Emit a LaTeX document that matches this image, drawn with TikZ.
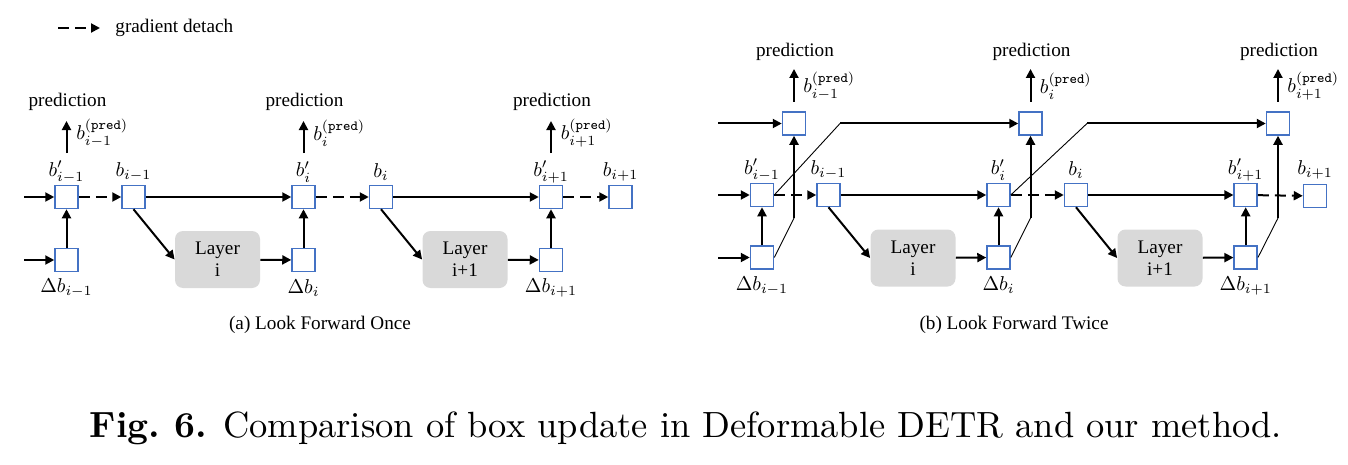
\documentclass[tikz,border=0pt]{standalone}
\usepackage{fontspec}
\usepackage{graphicx}
\usetikzlibrary{arrows.meta}
\newfontfamily\tnr{Liberation Serif}
\definecolor{boxblue}{HTML}{4472C4}
\definecolor{layergray}{HTML}{D9D9D9}
\begin{document}
\begin{tikzpicture}[x=0.5pt,y=-0.5pt,
  bx/.style={draw=boxblue,line width=0.75pt,fill=white,minimum size=11.5pt,inner sep=0pt},
  layerbox/.style={fill=layergray,rounded corners=4pt,minimum width=42.5pt,minimum height=28.5pt,
     align=center,inner sep=0pt,font=\tnr\fontsize{9.6}{10.8}\selectfont},
  txt/.style={font=\tnr\fontsize{9.6}{11}\selectfont,inner sep=0pt},
  mlab/.style={font=\fontsize{10}{12}\selectfont,inner sep=0pt},
  arr/.style={line width=1pt,-{Triangle[length=4.5pt,width=4.5pt]}},
  det/.style={arr,dash pattern=on 5.5pt off 3pt},
  thinln/.style={line width=0.45pt}]
\useasboundingbox (0,0) rectangle (1348,465);

% legend
\coordinate (lg1) at (58,28);
\coordinate (lg2) at (100,28);
\draw[det] (lg1) -- (lg2);
\node[txt,anchor=west] (lgt) at (115,28) {gradient detach};

% ================= panel (a) =================
\node[bx] (abp1) at (66.5,197) {};
\node[bx] (ad1) at (66.5,260) {};
\node[bx] (ab1) at (133.5,197) {};
\node[layerbox] (aL1) at (217.5,259.5) {Layer\\i};
\node[bx] (abp2) at (303.5,197) {};
\node[bx] (ad2) at (303.5,260) {};
\node[bx] (ab2) at (381,197) {};
\node[layerbox] (aL2) at (465,259.5) {Layer\\i+1};
\node[bx] (abp3) at (551,197) {};
\node[bx] (ad3) at (551,260) {};
\node[bx] (ab3) at (620.5,197) {};

\coordinate (ain1) at (24,197);
\coordinate (ain2) at (24,260);
\draw[arr] (ain1) -- (abp1);
\draw[arr] (ain2) -- (ad1);
\draw[arr] (ad1) -- (abp1);
\draw[det] (abp1) -- (ab1);
\draw[arr] (ab1.south) -- (aL1.west);
\draw[arr] (aL1) -- (ad2);
\draw[arr] (ad2) -- (abp2);
\draw[arr] (ab1) -- (abp2);
\draw[det] (abp2) -- (ab2);
\draw[arr] (ab2.south) -- (aL2.west);
\draw[arr] (aL2) -- (ad3);
\draw[arr] (ad3) -- (abp3);
\draw[arr] (ab2) -- (abp3);
\draw[det] (abp3) -- (ab3);

\node[mlab] (albp1) at (66.5,172) {$b'_{i-1}$};
\node[mlab] (alb1) at (133.5,172) {$b_{i-1}$};
\node[mlab] (albp2) at (303.5,172) {$b'_{i}$};
\node[mlab] (alb2) at (381,172) {$b_{i}$};
\node[mlab] (albp3) at (551,172) {$b'_{i+1}$};
\node[mlab] (alb3) at (620.5,172) {$b_{i+1}$};
\node[mlab] (ald1) at (66.5,288) {$\Delta b_{i-1}$};
\node[mlab] (ald2) at (303.5,288) {$\Delta b_{i}$};
\node[mlab] (ald3) at (551,288) {$\Delta b_{i+1}$};

\foreach \n/\x/\s in {1/66.5/{i-1},2/303.5/{i},3/551/{i+1}}{
  \coordinate (aps\n) at (\x,153);
  \coordinate (ape\n) at (\x,121);
  \draw[arr] (aps\n) -- (ape\n);
  \node[mlab,anchor=west] (apl\n) at (\x+9.5,133) {$b_{\s}^{(\mathtt{pred})}$};
  \node[txt] (apt\n) at (\x+1,102) {prediction};
}

\node[txt] (capa) at (320,325) {(a) Look Forward Once};

% ================= panel (b) =================
\node[bx] (bp1) at (794,123.5) {};
\node[bx] (bbp1) at (762,195) {};
\node[bx] (bd1) at (762,257.5) {};
\node[bx] (bb1) at (828.5,195) {};
\node[layerbox] (bL1) at (913,258) {Layer\\i};
\node[bx] (bbp2) at (998.5,195) {};
\node[bx] (bd2) at (998.5,257.5) {};
\node[bx] (bp2) at (1030.5,123.5) {};
\node[bx] (bb2) at (1076,195) {};
\node[layerbox] (bL2) at (1160,258) {Layer\\i+1};
\node[bx] (bbp3) at (1245.7,195) {};
\node[bx] (bd3) at (1245.7,257.5) {};
\node[bx] (bp3) at (1278,123.5) {};
\node[bx] (bb3) at (1315,196) {};

\coordinate (bin0) at (718,123.5);
\coordinate (bin1) at (718,195);
\coordinate (bin2) at (718,257.5);
\draw[arr] (bin0) -- (bp1);
\draw[arr] (bin1) -- (bbp1);
\draw[arr] (bin2) -- (bd1);
\draw[arr] (bd1) -- (bbp1);
\draw[det] (bbp1) -- (bb1);
\draw[arr] (bb1.south) -- (bL1.west);
\draw[arr] (bL1) -- (bd2);
\draw[arr] (bd2) -- (bbp2);
\draw[arr] (bb1) -- (bbp2);
\draw[det] (bbp2) -- (bb2);
\draw[arr] (bb2.south) -- (bL2.west);
\draw[arr] (bL2) -- (bd3);
\draw[arr] (bd3) -- (bbp3);
\draw[arr] (bb2) -- (bbp3);
\draw[det] (bbp3) -- (bb3);

% look-forward-twice connectors
\coordinate (bk1) at (840,123.5);
\coordinate (bk2) at (1087,123.5);
\coordinate (bv1) at (794,218);
\coordinate (bv2) at (1030.5,218);
\coordinate (bv3) at (1278,218);
\draw[thinln] (bbp1.east) -- (bk1);
\draw[arr] (bk1) -- (bp2);
\draw[thinln] (bbp2.east) -- (bk2);
\draw[arr] (bk2) -- (bp3);
\draw[thinln] (bd1.east) -- (bv1);
\draw[arr] (bv1) -- (bp1);
\draw[thinln] (bd2.east) -- (bv2);
\draw[arr] (bv2) -- (bp2);
\draw[thinln] (bd3.east) -- (bv3);
\draw[arr] (bv3) -- (bp3);

\node[mlab] (blbp1) at (762,170) {$b'_{i-1}$};
\node[mlab] (blb1) at (828.5,170) {$b_{i-1}$};
\node[mlab] (blbp2) at (998.5,170) {$b'_{i}$};
\node[mlab] (blb2) at (1076,170) {$b_{i}$};
\node[mlab] (blbp3) at (1245.7,170) {$b'_{i+1}$};
\node[mlab] (blb3) at (1315,170) {$b_{i+1}$};
\node[mlab] (bld1) at (762,285.5) {$\Delta b_{i-1}$};
\node[mlab] (bld2) at (998.5,285.5) {$\Delta b_{i}$};
\node[mlab] (bld3) at (1245.7,285.5) {$\Delta b_{i+1}$};

\foreach \n/\x/\s in {1/794/{i-1},2/1030.5/{i},3/1278/{i+1}}{
  \coordinate (bps\n) at (\x,102);
  \coordinate (bpe\n) at (\x,69);
  \draw[arr] (bps\n) -- (bpe\n);
  \node[mlab,anchor=west] (bpl\n) at (\x+9,86) {$b_{\s}^{(\mathtt{pred})}$};
  \node[txt] (bpt\n) at (\x+1,52) {prediction};
}

\node[txt] (capb) at (1014,325) {(b) Look Forward Twice};

% figure caption
\node[inner sep=0pt] (fig) at (686,428) {\resizebox{596pt}{!}{\textbf{Fig.~6.} Comparison of box update in Deformable DETR and our method.}};
\end{tikzpicture}
\end{document}
